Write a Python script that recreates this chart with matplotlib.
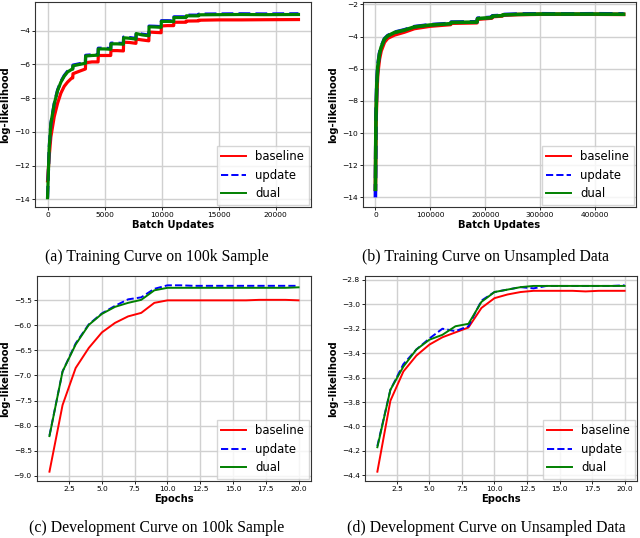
import matplotlib
matplotlib.use("Agg")
import matplotlib.pyplot as plt

# ---------------- data ----------------
labels = ["baseline", "update", "dual"]

# (a) Training curve on 100k sample (batch updates)
xa = [0, 140, 290, 585, 880, 1170, 1460, 1750, 2100, 2210, 2230, 2800, 3320, 3340,
      3900, 4430, 4450, 5000, 5540, 5560, 6100, 6650, 6670, 7200, 7750, 7770, 8300,
      8880, 8900, 9400, 9960, 9980, 10500, 11060, 11080, 11600, 12140, 12160, 13250,
      13270, 15000, 17000, 19000, 22000]
a_dual = [-13.9, -11.0, -9.5, -8.35, -7.55, -7.05, -6.7, -6.45, -6.3, -6.28, -6.08,
          -6.0, -5.93, -5.5, -5.47, -5.45, -5.08, -5.08, -5.1, -4.78, -4.78, -4.8,
          -4.42, -4.45, -4.5, -4.17, -4.25, -4.3, -3.77, -3.78, -3.8, -3.45, -3.45,
          -3.46, -3.22, -3.22, -3.22, -3.12, -3.12, -3.06, -3.05, -3.04, -3.05, -3.04]
a_update = [-13.9, -11.0, -9.5, -8.33, -7.52, -7.02, -6.66, -6.41, -6.26, -6.24, -6.04,
            -5.96, -5.89, -5.46, -5.43, -5.41, -5.04, -5.04, -5.06, -4.74, -4.74, -4.76,
            -4.38, -4.41, -4.46, -4.13, -4.21, -4.26, -3.73, -3.74, -3.76, -3.41, -3.41,
            -3.42, -3.18, -3.18, -3.18, -3.08, -3.08, -3.02, -3.01, -3.0, -3.01, -3.0]
a_base = [-12.9, -11.5, -10.3, -9.1, -8.3, -7.7, -7.3, -7.05, -6.82, -6.8, -6.55,
          -6.4, -6.27, -5.9, -5.85, -5.85, -5.47, -5.47, -5.47, -5.18, -5.18, -5.2,
          -4.68, -4.7, -4.75, -4.5, -4.55, -4.6, -4.08, -4.1, -4.12, -3.72, -3.7,
          -3.7, -3.5, -3.5, -3.5, -3.43, -3.42, -3.38, -3.36, -3.36, -3.35, -3.34]

# (b) Training curve on unsampled data
xb = [0, 1000, 2500, 4200, 7300, 10300, 16400, 22400, 34500, 52700, 71000, 100000,
      137000, 138000, 185000, 186000, 212000, 213000, 231000, 232000, 260000, 300000,
      350000, 400000, 452000]
b_dual = [-13.5, -9.0, -7.0, -5.9, -5.1, -4.68, -4.16, -3.96, -3.75, -3.6, -3.4, -3.28,
          -3.2, -3.12, -3.1, -2.88, -2.82, -2.73, -2.7, -2.65, -2.62, -2.6, -2.6, -2.6, -2.61]
b_update = [-14.0, -9.0, -6.95, -5.85, -5.05, -4.65, -4.14, -3.94, -3.73, -3.58, -3.38,
            -3.26, -3.18, -3.1, -3.08, -2.86, -2.8, -2.71, -2.68, -2.63, -2.6, -2.58,
            -2.59, -2.58, -2.59]
b_base = [-13.5, -9.5, -7.5, -6.3, -5.4, -4.9, -4.35, -4.1, -3.9, -3.72, -3.5, -3.35,
          -3.25, -3.17, -3.14, -2.92, -2.85, -2.76, -2.72, -2.67, -2.63, -2.61, -2.61,
          -2.61, -2.62]

# (c), (d) Development curves (epochs)
epochs = list(range(1, 21))
c_dual = [-8.21, -6.92, -6.38, -5.99, -5.77, -5.63, -5.55, -5.49, -5.30, -5.25,
          -5.25, -5.25, -5.25, -5.25, -5.25, -5.25, -5.25, -5.25, -5.25, -5.24]
c_update = [-8.20, -6.92, -6.36, -5.98, -5.76, -5.61, -5.48, -5.44, -5.27, -5.20,
            -5.20, -5.21, -5.21, -5.21, -5.21, -5.21, -5.21, -5.21, -5.21, -5.21]
c_base = [-8.92, -7.59, -6.85, -6.45, -6.14, -5.95, -5.82, -5.75, -5.55, -5.50,
          -5.50, -5.50, -5.50, -5.50, -5.50, -5.50, -5.49, -5.49, -5.49, -5.50]

d_dual = [-4.17, -3.70, -3.51, -3.37, -3.29, -3.25, -3.18, -3.16, -2.98, -2.90,
          -2.88, -2.86, -2.85, -2.85, -2.85, -2.85, -2.85, -2.85, -2.85, -2.85]
d_update = [-4.16, -3.70, -3.49, -3.37, -3.28, -3.20, -3.22, -3.18, -2.97, -2.90,
            -2.88, -2.86, -2.87, -2.85, -2.85, -2.85, -2.85, -2.85, -2.85, -2.845]
d_base = [-4.37, -3.79, -3.55, -3.42, -3.33, -3.27, -3.23, -3.19, -3.03, -2.95,
          -2.92, -2.90, -2.89, -2.89, -2.89, -2.89, -2.895, -2.89, -2.89, -2.89]

captions = ["(a) Training Curve on 100k Sample",
            "(b) Training Curve on Unsampled Data",
            "(c) Development Curve on 100k Sample",
            "(d) Development Curve on Unsampled Data"]

# ---------------- figure ----------------
W, H = 640, 538
fig = plt.figure(figsize=(W / 100, H / 100), dpi=100)

def rect(l, r, t, b):
    return [l / W, 1 - b / H, (r - l) / W, (b - t) / H]

panels = [
    dict(rect=rect(35, 311, 2, 207), x=xa, ys=(a_base, a_update, a_dual), lw=2.3,
         xlabel="Batch Updates", ylim=(-14.45, -2.3), yticks=[-14, -12, -10, -8, -6, -4]),
    dict(rect=rect(363, 636, 2, 207), x=xb, ys=(b_base, b_update, b_dual), lw=2.6,
         xlabel="Batch Updates", ylim=(-14.6, -1.85), yticks=[-14, -12, -10, -8, -6, -4, -2]),
    dict(rect=rect(37, 311, 276, 481), x=epochs, ys=(c_base, c_update, c_dual), lw=1.4,
         xlabel="Epochs", ylim=None, yticks=None),
    dict(rect=rect(365, 637, 276, 481), x=epochs, ys=(d_base, d_update, d_dual), lw=1.4,
         xlabel="Epochs", ylim=None, yticks=None),
]

styles = [dict(color="red", ls="-"), dict(color="blue", ls="--"), dict(color="green", ls="-")]

for p in panels:
    ax = fig.add_axes(p["rect"])
    for lab, y, st in zip(labels, p["ys"], styles):
        ax.plot(p["x"], y, label=lab, lw=p["lw"], **st)
    if p["ylim"]:
        ax.set_ylim(*p["ylim"])
    if p["yticks"]:
        ax.set_yticks(p["yticks"])
    ax.grid(True, color="#d0d0d0", lw=1.0)
    ax.set_axisbelow(True)
    ax.tick_params(labelsize=5.4, length=2, width=0.6, pad=1.8)
    for s in ax.spines.values():
        s.set_linewidth(0.8)
        s.set_color("#333333")
    ax.set_xlabel(p["xlabel"], fontsize=7.2, fontweight="bold", labelpad=1)
    ax.set_ylabel("log-likelihood", fontsize=7.2, fontweight="bold", labelpad=2.5)
    leg = ax.legend(loc="lower right", fontsize=8.4, borderaxespad=0.2,
                    labelspacing=0.45, handlelength=2.1, fancybox=False)
    for line in leg.get_lines():
        line.set_linewidth(1.4)

# captions
fig.text(157 / W, 1 - 257 / H, captions[0], ha="center", va="center",
         family="Liberation Serif", fontsize=11.3)
fig.text(486 / W, 1 - 257 / H, captions[1], ha="center", va="center",
         family="Liberation Serif", fontsize=11.3)
fig.text(157 / W, 1 - 528 / H, captions[2], ha="center", va="center",
         family="Liberation Serif", fontsize=11.3)
fig.text(486 / W, 1 - 528 / H, captions[3], ha="center", va="center",
         family="Liberation Serif", fontsize=11.3)

fig.savefig("out.png", dpi=100)
